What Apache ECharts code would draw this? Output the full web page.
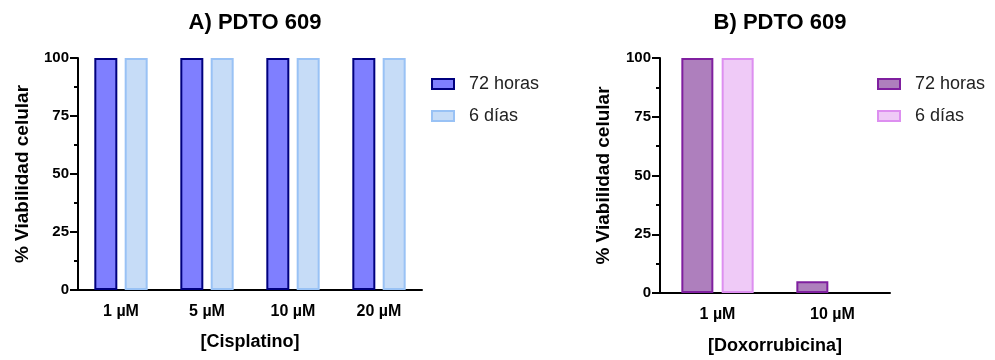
<!DOCTYPE html>
<html><head><meta charset="utf-8">
<script src="https://cdn.jsdelivr.net/npm/echarts@6/dist/echarts.min.js"></script>
<style>
html,body{margin:0;padding:0;background:#fff;}
#a{position:absolute;left:0;top:0;width:580px;height:360px;}
#b{position:absolute;left:580px;top:0;width:415px;height:360px;}
</style></head>
<body>
<div id="a"></div><div id="b"></div>
<script>
const catsA = ['1 µM', '5 µM', '10 µM', '20 µM'];
const a72 = [100, 100, 100, 100];
const a6 = [100, 100, 100, 100];
const catsB = ['1 µM', '10 µM'];
const b72 = [100, 5];
const b6 = [100, 0];
const yTicks = [0, 25, 50, 75, 100];
const seriesNames = ['72 horas', '6 días'];

const FONT = '"Liberation Sans", Arial, sans-serif';

function toData(arr) {
  return arr.map(v => v === 0 ? { value: 0, itemStyle: { borderWidth: 0, opacity: 0 } } : v);
}

function makeOption(o) {
  return {
    animation: false,
    title: {
      text: o.title, left: o.titleX, top: 7, textAlign: 'center',
      textStyle: { fontFamily: FONT, fontWeight: 'bold', fontSize: 22, color: '#000' }
    },
    legend: {
      left: o.legendLeft, top: 70, orient: 'vertical',
      itemWidth: 22, itemHeight: 10, itemGap: 14,
      icon: 'rect',
      textStyle: { fontFamily: FONT, fontSize: 18, color: '#222', padding: [0, 0, 0, 10] },
      data: seriesNames
    },
    grid: o.grid,
    xAxis: {
      type: 'category', data: o.cats,
      name: o.xName, nameLocation: 'middle', nameGap: o.xNameGap,
      nameTextStyle: { fontFamily: FONT, fontWeight: 'bold', fontSize: 18, color: '#000' },
      axisLine: { lineStyle: { color: '#000', width: 2 } },
      axisTick: { alignWithLabel: true, length: 8, lineStyle: { color: '#000', width: 2 } },
      axisLabel: { margin: 14, fontFamily: FONT, fontWeight: 'bold', fontSize: 16, color: '#000' }
    },
    yAxis: {
      type: 'value', min: yTicks[0], max: yTicks[yTicks.length - 1], interval: 25,
      name: '% Viabilidad celular', nameLocation: 'middle', nameGap: o.yNameGap,
      nameTextStyle: { fontFamily: FONT, fontWeight: 'bold', fontSize: 19, color: '#000' },
      axisLine: { show: true, lineStyle: { color: '#000', width: 2 } },
      axisTick: { show: true, length: 8, lineStyle: { color: '#000', width: 2 } },
      minorTick: { show: true, splitNumber: 2, length: 4, lineStyle: { color: '#000', width: 2 } },
      splitLine: { show: false },
      axisLabel: { margin: 9, fontFamily: FONT, fontWeight: 'bold', fontSize: 15, color: '#000' }
    },
    series: [
      {
        name: seriesNames[0], type: 'bar', data: toData(o.s1), barWidth: o.barWidth, barGap: o.barGap,
        itemStyle: { color: o.c1, borderColor: o.b1, borderWidth: 2 }
      },
      {
        name: seriesNames[1], type: 'bar', data: toData(o.s2), barWidth: o.barWidth, barGap: o.barGap,
        itemStyle: { color: o.c2, borderColor: o.b2, borderWidth: 2 }
      }
    ]
  };
}

const chartA = echarts.init(document.getElementById('a'), null, { renderer: 'canvas' });
chartA.setOption(makeOption({
  title: 'A) PDTO 609', titleX: 250, legendLeft: 426,
  grid: { left: 78, right: 158, top: 58, bottom: 70, containLabel: false },
  cats: catsA, s1: a72, s2: a6,
  xName: '[Cisplatino]', xNameGap: 43, yNameGap: 46,
  barWidth: 23, barGap: '32%',
  c1: '#7f7fff', b1: '#00007f', c2: '#c6dcf7', b2: '#99c2f5'
}));

const chartB = echarts.init(document.getElementById('b'), null, { renderer: 'canvas' });
chartB.setOption(makeOption({
  title: 'B) PDTO 609', titleX: 195, legendLeft: 292,
  grid: { left: 80, right: 105, top: 58, bottom: 66, containLabel: false },
  cats: catsB, s1: b72, s2: b6,
  xName: '[Doxorrubicina]', xNameGap: 44, yNameGap: 47,
  barWidth: 32, barGap: '26%',
  c1: '#ae7fbd', b1: '#7f1f9f', c2: '#efcaf7', b2: '#dd8ff0'
}));
</script>
</body></html>
